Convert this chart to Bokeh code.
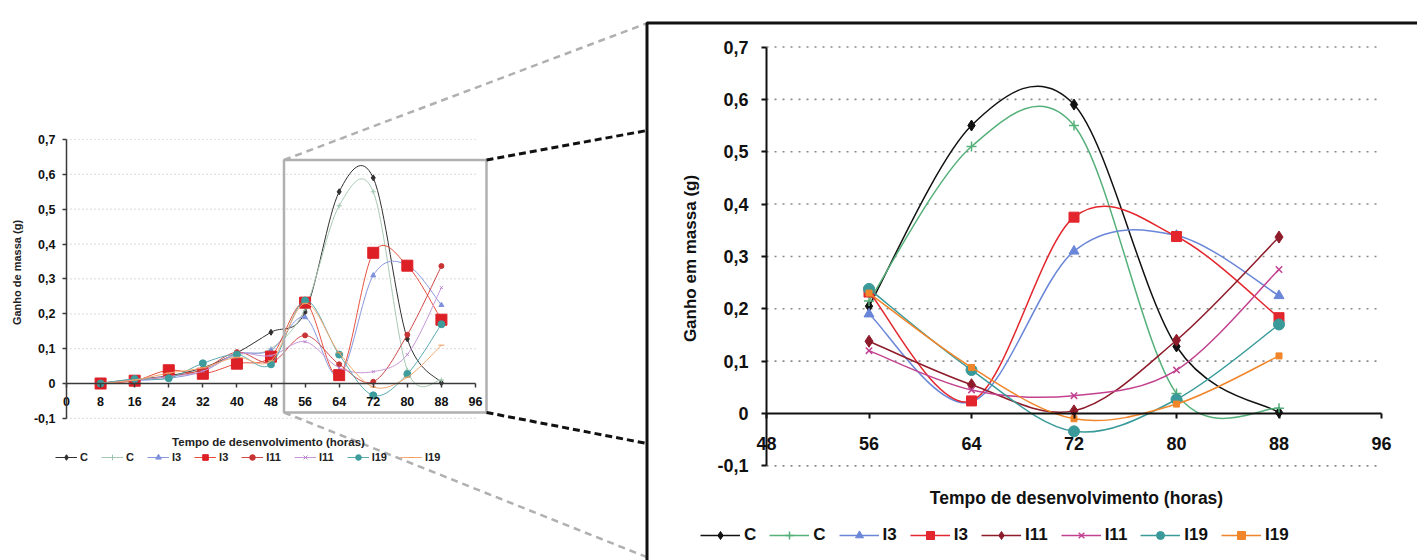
import numpy as np
from bokeh.plotting import figure
from bokeh.models import (Range1d, LinearAxis, FixedTicker, CustomJSTickFormatter,
                          Legend, LegendItem, ColumnDataSource)
from bokeh.embed import file_html
from bokeh.resources import INLINE
from bokeh.core.properties import value

# ---------------- data ----------------
hours = [8, 16, 24, 32, 40, 48, 56, 64, 72, 80, 88]
c_a   = [0.001, 0.012, 0.022, 0.045, 0.088, 0.147, 0.205, 0.550, 0.590, 0.128, 0.002]
c_b   = [0.001, 0.010, 0.020, 0.040, 0.082, 0.100, 0.215, 0.510, 0.550, 0.038, 0.010]
i3_a  = [0.001, 0.008, 0.015, 0.035, 0.085, 0.095, 0.190, 0.022, 0.310, 0.340, 0.225]
i3_b  = [0.000, 0.008, 0.038, 0.028, 0.057, 0.077, 0.232, 0.024, 0.375, 0.338, 0.183]
i11_a = [0.000, 0.010, 0.020, 0.040, 0.090, 0.060, 0.138, 0.055, 0.005, 0.140, 0.337]
i11_b = [0.000, 0.010, 0.020, 0.035, 0.085, 0.080, 0.120, 0.045, 0.034, 0.083, 0.275]
i19_a = [0.000, 0.013, 0.015, 0.058, 0.083, 0.055, 0.238, 0.083, -0.034, 0.027, 0.170]
i19_b = [0.000, 0.010, 0.030, 0.045, 0.075, 0.065, 0.230, 0.088, -0.010, 0.018, 0.110]
series_names = ["C", "C", "I3", "I3", "I11", "I11", "I19", "I19"]
series_values = [c_a, c_b, i3_a, i3_b, i11_a, i11_b, i19_a, i19_b]

zoom_start_hour = 56
y_ticks = [-0.1, 0, 0.1, 0.2, 0.3, 0.4, 0.5, 0.6, 0.7]
left_x_ticks = [0, 8, 16, 24, 32, 40, 48, 56, 64, 72, 80, 88, 96]
right_x_ticks = [48, 56, 64, 72, 80, 88, 96]
left_xlabel = "Tempo de desenvolvimento (horas)"
left_ylabel = "Ganho de massa (g)"
right_xlabel = "Tempo de desenvolvimento (horas)"
right_ylabel = "Ganho em massa (g)"

# ---------------- styles ----------------
left_styles = [
    dict(marker="diamond", size=6, color="#303030", line="#303030"),
    dict(marker="cross", size=5, color="#9cc4ac", line="#a8c8b4"),
    dict(marker="triangle", size=5, color="#7f90dc", line="#8898dd"),
    dict(marker="square", size=11, color="#dd1f26", line="#e8503e"),
    dict(marker="circle", size=5, color="#c83434", line="#d04848"),
    dict(marker="x", size=4, color="#b880cc", line="#c898d8"),
    dict(marker="circle", size=7, color="#3d9c9c", line="#58aab0"),
    dict(marker="dash", size=6, color="#f09a5a", line="#f4a870"),
]
right_styles = [
    dict(marker="diamond", size=11, color="#111111", line="#111111"),
    dict(marker="cross", size=10, color="#55b07a", line="#55b07a"),
    dict(marker="triangle", size=10, color="#6a86d8", line="#6a86d8"),
    dict(marker="square", size=10, color="#e3262d", line="#e3262d"),
    dict(marker="diamond", size=12, color="#8e1b2a", line="#8e1b2a"),
    dict(marker="x", size=9, color="#c2428f", line="#c2428f"),
    dict(marker="circle", size=11, color="#3a9a9a", line="#3a9a9a"),
    dict(marker="square", size=6, color="#f0852a", line="#f0852a"),
]

FONT = "Liberation Sans"
W, H = 1417, 560
OFF = 0  # reference pixel -> canvas pixel offset

# layout anchors (reference pixels)
L_X0, L_X1 = 66, 475       # hour 0 and 96
L_Y0, L_Y7 = 383, 139      # value 0 and 0.7
R_X0, R_X1 = 766, 1381     # hour 48 and 96
R_Y0, R_Y7 = 413, 46.5     # value 0 and 0.7


def make_range_x(px_a, px_b, va, vb):
    s = (px_b - px_a) / (vb - va)
    start = va - (px_a - OFF) / s
    return Range1d(start=start, end=start + W / s)


def make_range_y(py0, py7, v7):
    s = (py0 - py7) / v7
    c0 = py0 - OFF
    return Range1d(start=-(H - c0) / s, end=c0 / s)


p = figure(width=W, height=H, output_backend="svg", toolbar_location=None,
           x_range=Range1d(0, W), y_range=Range1d(H, 0),
           min_border=0, x_axis_type=None, y_axis_type=None)
p.outline_line_color = None
p.xgrid.visible = False
p.ygrid.visible = False
p.background_fill_color = "white"
p.border_fill_color = "white"

p.extra_x_ranges = {"lx": make_range_x(L_X0, L_X1, 0, 96),
                    "rx": make_range_x(R_X0, R_X1, 48, 96)}
p.extra_y_ranges = {"ly": make_range_y(L_Y0, L_Y7, 0.7),
                    "ry": make_range_y(R_Y0, R_Y7, 0.7)}

fmt = CustomJSTickFormatter(code="""
if (Math.abs(tick) < 1e-9) { return '0'; }
return tick.toFixed(1).replace('.', ',');
""")


def bezier_source(xs, ys):
    n = len(xs)
    d = dict(x0=[], y0=[], x1=[], y1=[], cx0=[], cy0=[], cx1=[], cy1=[])
    for i in range(n - 1):
        a = i - 1 if i > 0 else i
        b = i + 2 if i + 2 < n else i + 1
        d["x0"].append(xs[i]); d["y0"].append(ys[i])
        d["x1"].append(xs[i + 1]); d["y1"].append(ys[i + 1])
        d["cx0"].append(xs[i] + (xs[i + 1] - xs[a]) / 6.0)
        d["cy0"].append(ys[i] + (ys[i + 1] - ys[a]) / 6.0)
        d["cx1"].append(xs[i + 1] - (xs[b] - xs[i]) / 6.0)
        d["cy1"].append(ys[i + 1] - (ys[b] - ys[i]) / 6.0)
    return ColumnDataSource(d)


def panel(xr, yr, xticks, xbounds, styles, xs_all, lw, fs, tick_out, xstand, ystand,
          axis_color, axis_w, grid_color, grid_dash, grid_w, start_hour):
    gy = [t for t in y_ticks if abs(t) > 1e-9]
    p.segment(x0=[xbounds[0]] * len(gy), x1=[xbounds[1]] * len(gy), y0=gy, y1=gy,
              line_color=grid_color, line_dash=grid_dash, line_width=grid_w,
              x_range_name=xr, y_range_name=yr)
    yax = LinearAxis(x_range_name=xr, y_range_name=yr, fixed_location=xbounds[0],
                     bounds=(y_ticks[0], y_ticks[-1]), ticker=FixedTicker(ticks=y_ticks),
                     formatter=fmt)
    xax = LinearAxis(x_range_name=xr, y_range_name=yr, fixed_location=0,
                     bounds=(xbounds[0], xbounds[1]), ticker=FixedTicker(ticks=xticks))
    for ax, st in ((yax, ystand), (xax, xstand)):
        ax.axis_line_color = axis_color
        ax.axis_line_width = axis_w
        ax.major_tick_line_color = axis_color
        ax.major_tick_line_width = axis_w
        ax.major_tick_out = tick_out
        ax.major_tick_in = 0
        ax.minor_tick_line_color = None
        ax.major_label_text_font = FONT
        ax.major_label_text_font_style = "bold"
        ax.major_label_text_font_size = f"{fs}px"
        ax.major_label_text_color = "#111111"
        ax.major_label_standoff = st
    p.add_layout(yax, "left")
    p.add_layout(xax, "below")

    items = []
    for name, vals, st in zip(series_names, series_values, styles):
        xs = [h for h in xs_all if h >= start_hour]
        ys = [v for h, v in zip(xs_all, vals) if h >= start_hour]
        br = p.bezier(x0="x0", y0="y0", x1="x1", y1="y1", cx0="cx0", cy0="cy0",
                      cx1="cx1", cy1="cy1", source=bezier_source(xs, ys),
                      line_color=st["line"], line_width=lw,
                      x_range_name=xr, y_range_name=yr)
        mk = dict(marker=st["marker"], size=st["size"], fill_color=st["color"],
                  line_color=st["color"])
        if st["marker"] in ("cross", "x", "dash"):
            mk["line_width"] = 1.5 if st["size"] > 6 else 1
        sr = p.scatter(x=xs, y=ys, x_range_name=xr, y_range_name=yr, **mk)
        items.append(LegendItem(label=name, renderers=[br, sr]))
    return items


left_items = panel("lx", "ly", left_x_ticks, (0, 96), left_styles, hours, 1.0, 12.5, 4, 9, 7,
                   "#3a3a3a", 1.5, "#c4c4c4", "1 3", 1.2, hours[0])
right_items = panel("rx", "ry", right_x_ticks, (48, 96), right_styles, hours, 1.5, 18, 5, 18, 13,
                    "#111111", 2, "#8a8a8a", "2 6", 1.6, zoom_start_hour)

# ---------------- zoom decoration (reference pixel coords -> canvas) ----------------
def cx(x): return x - OFF
def cy(y): return y - OFF

p.quad(left=cx(283.5), right=cx(486), top=cy(159.5), bottom=cy(412),
       fill_color=None, line_color="#b0b0b0", line_width=2.5)
p.segment(x0=[cx(283.5), cx(283.5)], y0=[cy(159.5), cy(412)],
          x1=[cx(646.5), cx(646.5)], y1=[cy(22.7), cy(556.7)],
          line_color="#b0b0b0", line_width=2.5, line_dash="7 5")
p.segment(x0=[cx(486), cx(486)], y0=[cy(159.5), cy(412)],
          x1=[cx(646.5), cx(646.5)], y1=[cy(130), cy(443)],
          line_color="#111111", line_width=3, line_dash="7 4")
p.quad(left=cx(646.5), right=cx(1500), top=cy(22.5), bottom=cy(640),
       fill_color=None, line_color="#111111", line_width=3)

# ---------------- axis titles ----------------
p.text(x=[cx(16)], y=[cy(272)], text=[left_ylabel], angle=np.pi / 2,
       text_align="center", text_baseline="middle", text_font=value(FONT),
       text_font_style="bold", text_font_size="11px", text_color="#222222")
p.text(x=[cx(268)], y=[cy(441)], text=[left_xlabel],
       text_align="center", text_baseline="middle", text_font=value(FONT),
       text_font_style="bold", text_font_size="11.5px", text_color="#222222")
p.text(x=[cx(690)], y=[cy(258)], text=[right_ylabel], angle=np.pi / 2,
       text_align="center", text_baseline="middle", text_font=value(FONT),
       text_font_style="bold", text_font_size="17px", text_color="#111111")
p.text(x=[cx(1076)], y=[cy(497)], text=[right_xlabel],
       text_align="center", text_baseline="middle", text_font=value(FONT),
       text_font_style="bold", text_font_size="17.5px", text_color="#111111")

# ---------------- legends ----------------
leg_l = Legend(items=left_items, orientation="horizontal", location=(cx(55), H - cy(457) - 7),
               glyph_width=22, glyph_height=14, label_height=14, label_width=1,
               label_standoff=3, spacing=13,
               padding=0, margin=0, border_line_color=None, background_fill_alpha=0,
               label_text_font=FONT, label_text_font_style="bold", label_text_font_size="11px",
               label_text_color="#222222")
leg_r = Legend(items=right_items, orientation="horizontal", location=(cx(700), H - cy(535) - 10),
               glyph_width=40, glyph_height=20, label_height=20, label_width=1,
               label_standoff=4, spacing=13,
               padding=0, margin=0, border_line_color=None, background_fill_alpha=0,
               label_text_font=FONT, label_text_font_style="bold", label_text_font_size="17px",
               label_text_color="#111111")
p.add_layout(leg_l, "center")
p.add_layout(leg_r, "center")

open("out.html", "w").write(file_html(p, INLINE))
